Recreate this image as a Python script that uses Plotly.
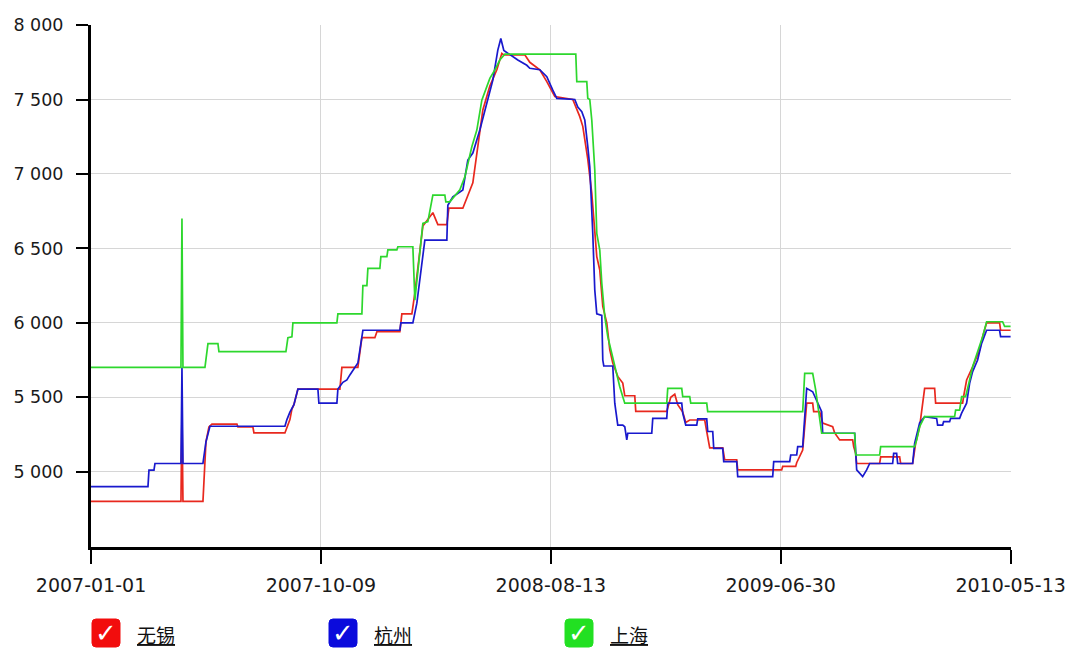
import plotly.graph_objects as go

# ---------------- data (x = trading-day index, y = price) ----------------
series_names = ["无锡", "杭州", "上海"]

wuxi_x = [0, 90, 91, 92, 112, 115, 118, 121, 146, 147, 162, 163, 194, 196, 199, 201, 203, 207,
          249, 251, 267, 271, 284, 286, 309, 311, 321, 324, 332, 342, 347, 356, 358, 372, 382,
          392, 399, 406, 411, 413, 434, 439, 449, 456, 464, 482, 489, 492, 497, 501, 502, 506,
          509, 512, 516, 519, 522, 527, 532, 534, 544, 545, 576, 580, 584, 587, 592, 595, 599,
          614, 616, 619, 632, 634, 646, 647, 691, 692, 705, 706, 712, 716, 722, 723, 729, 732,
          742, 744, 749, 762, 763, 765, 766, 789, 790, 809, 810, 822, 825, 829, 834, 844, 845,
          872, 873, 876, 882, 889, 892, 896, 909, 910, 920]
wuxi_y = [4800, 4800, 5400, 4800, 4800, 5200, 5300, 5320, 5320, 5300, 5300, 5260, 5260, 5300,
          5350, 5420, 5450, 5555, 5555, 5700, 5700, 5900, 5900, 5940, 5940, 6060, 6060, 6200,
          6650, 6740, 6660, 6660, 6770, 6770, 6940, 7430, 7590, 7700, 7810, 7800, 7800, 7750,
          7700, 7620, 7520, 7500, 7385, 7320, 7100, 6870, 6780, 6445, 6355, 6110, 6000, 5820,
          5730, 5640, 5595, 5510, 5510, 5405, 5405, 5500, 5520, 5450, 5400, 5330, 5347, 5347,
          5270, 5160, 5160, 5080, 5080, 5012, 5012, 5035, 5035, 5060, 5145, 5460, 5460, 5403,
          5403, 5327, 5302, 5260, 5213, 5213, 5168, 5123, 5055, 5055, 5100, 5100, 5055, 5055,
          5190, 5302, 5560, 5560, 5460, 5460, 5505, 5616, 5705, 5817, 5907, 6000, 6000, 5950,
          5950]

hangzhou_x = [0, 57, 58, 63, 64, 90, 91, 92, 112, 115, 119, 194, 196, 199, 203, 207, 227, 228,
              246, 247, 252, 256, 259, 262, 267, 272, 309, 310, 322, 326, 334, 356, 357, 362,
              372, 377, 382, 389, 396, 402, 407, 410, 413, 422, 427, 436, 439, 449, 456, 462,
              466, 484, 487, 491, 494, 497, 499, 502, 504, 506, 511, 512, 513, 522, 524, 527,
              532, 534, 536, 537, 561, 562, 576, 577, 591, 592, 595, 606, 607, 616, 617, 622,
              623, 632, 633, 646, 647, 682, 683, 699, 700, 706, 707, 712, 716, 722, 726, 731,
              732, 764, 766, 769, 772, 776, 779, 802, 803, 806, 807, 822, 824, 829, 834, 846,
              847, 852, 853, 859, 860, 869, 871, 876, 879, 882, 887, 891, 896, 909, 910, 920]
hangzhou_y = [4900, 4900, 5010, 5010, 5055, 5055, 5700, 5055, 5055, 5200, 5305, 5305, 5350,
              5400, 5450, 5555, 5555, 5460, 5460, 5555, 5600, 5616, 5650, 5683, 5730, 5950,
              5950, 6000, 6000, 6132, 6556, 6556, 6790, 6847, 6893, 7093, 7140, 7295, 7476,
              7630, 7832, 7910, 7830, 7787, 7765, 7730, 7710, 7700, 7653, 7563, 7508, 7500,
              7450, 7418, 7362, 7183, 7048, 6600, 6220, 6060, 6050, 5750, 5710, 5710, 5460,
              5313, 5313, 5302, 5213, 5258, 5258, 5358, 5358, 5460, 5460, 5393, 5313, 5313,
              5355, 5355, 5270, 5270, 5157, 5157, 5068, 5068, 4967, 4967, 5068, 5068, 5112,
              5112, 5168, 5168, 5560, 5537, 5482, 5403, 5258, 5258, 5012, 4990, 4967, 5012,
              5055, 5055, 5123, 5123, 5055, 5055, 5190, 5327, 5370, 5358, 5313, 5313, 5336,
              5336, 5358, 5358, 5393, 5460, 5594, 5672, 5750, 5862, 5950, 5950, 5907, 5907]

shanghai_x = [0, 90, 91, 92, 114, 117, 127, 128, 195, 197, 201, 202, 246, 247, 271, 272, 276,
              277, 289, 290, 296, 297, 306, 307, 322, 324, 332, 337, 342, 354, 355, 359, 369,
              374, 381, 386, 391, 396, 399, 404, 409, 414, 485, 486, 496, 497, 499, 501, 502,
              504, 506, 509, 511, 514, 517, 521, 524, 527, 529, 532, 534, 576, 577, 591, 592,
              599, 600, 616, 617, 712, 714, 722, 725, 731, 764, 765, 789, 790, 824, 826, 829,
              834, 864, 865, 869, 871, 875, 879, 882, 892, 896, 912, 914, 920]
shanghai_y = [5700, 5700, 6700, 5700, 5700, 5860, 5860, 5806, 5806, 5900, 5906, 6000, 6000,
              6060, 6060, 6250, 6250, 6366, 6366, 6444, 6444, 6490, 6490, 6511, 6511, 6153,
              6668, 6680, 6858, 6858, 6813, 6813, 6893, 6980, 7183, 7295, 7496, 7586, 7642,
              7698, 7765, 7805, 7805, 7620, 7620, 7508, 7500, 7362, 7250, 7026, 6600, 6489,
              6267, 6041, 5907, 5795, 5705, 5638, 5570, 5504, 5460, 5460, 5560, 5560, 5504,
              5504, 5460, 5460, 5403, 5403, 5660, 5660, 5549, 5258, 5258, 5112, 5112, 5168,
              5168, 5213, 5302, 5370, 5370, 5414, 5414, 5504, 5504, 5616, 5705, 5907, 6007,
              6007, 5976, 5976]

x_tick_positions = [0, 230, 460, 690, 920]
x_tick_labels = ["2007-01-01", "2007-10-09", "2008-08-13", "2009-06-30", "2010-05-13"]
y_tick_values = [5000, 5500, 6000, 6500, 7000, 7500, 8000]
y_tick_labels = ["5 000", "5 500", "6 000", "6 500", "7 000", "7 500", "8 000"]

# ---------------- styling ----------------
line_colors = ["rgb(232,40,30)", "rgb(25,25,205)", "rgb(45,215,45)"]
box_colors = ["#f20d0d", "#0b0bdc", "#22e022"]

fig = go.Figure()
for name, xs, ys, col in zip(series_names,
                             [wuxi_x, hangzhou_x, shanghai_x],
                             [wuxi_y, hangzhou_y, shanghai_y],
                             line_colors):
    fig.add_trace(go.Scatter(x=xs, y=ys, mode="lines", name=name,
                             line=dict(color=col, width=1.7)))

W, H = 1069, 651
L, R, T, B = 91, 58, 25, 104
PW, PH = W - L - R, H - T - B

def px_x(px):
    return (px - L) / PW

def px_y(py):
    return (T + PH - py) / PH

x_tick_font = dict(family="DejaVu Sans", size=19, color="#1a1a1a")
y_tick_font = dict(family="DejaVu Sans", size=17.5, color="#1a1a1a")

fig.update_layout(
    width=W, height=H,
    margin=dict(l=L, r=R, t=T, b=B, autoexpand=False),
    plot_bgcolor="white", paper_bgcolor="white",
    showlegend=False,
    xaxis=dict(range=[0, 920.4], tickvals=x_tick_positions, ticktext=x_tick_labels,
               showgrid=True, gridcolor="#d6d6d6", gridwidth=1, zeroline=False,
               showline=True, linecolor="black", linewidth=3, automargin=False,
               ticks="outside", ticklen=14, tickwidth=2, tickcolor="black",
               ticklabelstandoff=5, tickfont=x_tick_font),
    yaxis=dict(range=[4494, 8000.6], tickvals=y_tick_values, ticktext=y_tick_labels,
               showgrid=True, gridcolor="#d6d6d6", gridwidth=1, zeroline=False,
               showline=True, linecolor="black", linewidth=3, automargin=False,
               ticks="outside", ticklen=12, tickwidth=2, tickcolor="black",
               ticklabelstandoff=9, tickfont=y_tick_font),
)

# custom checkbox legend
legend_box_px = [106, 343, 579]
legend_label_px = [135, 372, 608]
legend_y_px = 633
shapes = []
annotations = []
r = 4
s = 14
rounded = (f"M {-s+r},{-s} L {s-r},{-s} Q {s},{-s} {s},{-s+r} L {s},{s-r} Q {s},{s} {s-r},{s} "
           f"L {-s+r},{s} Q {-s},{s} {-s},{s-r} L {-s},{-s+r} Q {-s},{-s} {-s+r},{-s} Z")
for name, bx, lx, bc in zip(series_names, legend_box_px, legend_label_px, box_colors):
    shapes.append(dict(type="path", xref="paper", yref="paper",
                       xsizemode="pixel", ysizemode="pixel",
                       xanchor=px_x(bx), yanchor=px_y(legend_y_px),
                       path=rounded, fillcolor=bc, line=dict(color=bc, width=1)))
    annotations.append(dict(x=px_x(bx), y=px_y(legend_y_px), xref="paper", yref="paper",
                            text="✓", showarrow=False, xanchor="center", yanchor="middle",
                            font=dict(family="DejaVu Sans", size=26, color="white")))
    annotations.append(dict(x=px_x(lx), y=px_y(legend_y_px + 1), xref="paper", yref="paper",
                            text=f"<u>{name}</u>", showarrow=False, xanchor="left",
                            yanchor="middle",
                            font=dict(family="Noto Sans CJK SC", size=19, color="#111")))
fig.update_layout(shapes=shapes, annotations=annotations)

fig.write_html("out.html",
               config={"displayModeBar": False},
               post_script="document.body.style.margin='0';document.body.style.overflow='hidden';")
